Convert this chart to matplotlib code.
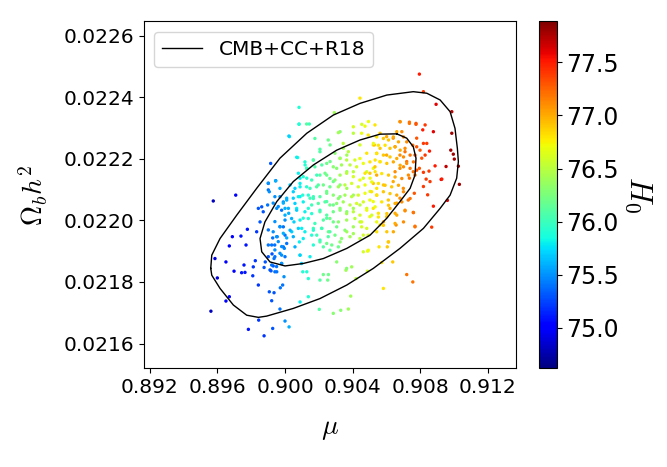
import numpy as np
import matplotlib.pyplot as plt

plt.rcParams['mathtext.fontset'] = 'cm'

# scatter samples: mu, Omega_b h^2, H0
mu = [0.89575, 0.89708, 0.89561, 0.89599, 0.89585, 0.8965, 0.8967, 0.89688, 0.8965, 0.8967,
      0.89698, 0.89743, 0.89763, 0.89739, 0.89769, 0.89777, 0.89757, 0.89809, 0.89812, 0.89842,
      0.89824, 0.89832, 0.89852, 0.89842, 0.89862, 0.89871, 0.89901, 0.89901, 0.89915, 0.89945,
      0.89783, 0.89876, 0.89927, 0.9, 0.90024, 0.89844, 0.8997, 0.89921, 0.89907, 0.89935,
      0.89986, 0.89972, 0.89994, 0.89951, 0.89917, 0.89876, 0.8993, 0.89883, 0.89923, 0.89935,
      0.89901, 0.89939, 0.89954, 0.89927, 0.9001, 0.8998, 0.89996, 0.8997, 0.9, 0.9,
      0.9001, 0.8997, 0.89951, 0.90022, 0.9004, 0.90053, 0.90069, 0.90075, 0.90083, 0.90083,
      0.90144, 0.90026, 0.90168, 0.90119, 0.90129, 0.90089, 0.90079, 0.90105, 0.90148, 0.90168,
      0.90138, 0.90108, 0.90099, 0.90085, 0.90089, 0.90105, 0.90129, 0.90138, 0.90089, 0.90138,
      0.90203, 0.90207, 0.90227, 0.90257, 0.90253, 0.90286, 0.9033, 0.90375, 0.90389, 0.90306,
      0.90361, 0.90421, 0.90488, 0.9049, 0.90573, 0.90583, 0.90638, 0.90606, 0.90612, 0.90557,
      0.90563, 0.90583, 0.90652, 0.90658, 0.90711, 0.9076, 0.9077, 0.90721, 0.90757, 0.90869,
      0.90879, 0.90962, 0.91033, 0.90925, 0.90929, 0.90889, 0.90954, 0.91027, 0.90997, 0.90982,
      0.90988, 0.90988, 0.90895, 0.9082, 0.90796, 0.90444, 0.90292, 0.90836, 0.9082, 0.9082,
      0.90859, 0.9081, 0.9083, 0.90856, 0.9082, 0.9084, 0.90816, 0.90879, 0.9083, 0.90776,
      0.90737, 0.90681, 0.9078, 0.908, 0.9077, 0.90737, 0.9076, 0.90796, 0.90766, 0.90701,
      0.9073, 0.90681, 0.90662, 0.90612, 0.90622, 0.90602, 0.90553, 0.90543, 0.90464, 0.90484,
      0.90444, 0.90405, 0.90366, 0.90326, 0.90277, 0.90247, 0.90207, 0.90188, 0.90168, 0.90218,
      0.90257, 0.90286, 0.90247, 0.90207, 0.90247, 0.90286, 0.90326, 0.90366, 0.90405, 0.90444,
      0.90484, 0.90523, 0.90504, 0.90543, 0.90583, 0.90641, 0.90652, 0.90681, 0.90721, 0.90711,
      0.90681, 0.90652, 0.90641, 0.90602, 0.90563, 0.90533, 0.90494, 0.90455, 0.90405, 0.90444,
      0.90523, 0.90563, 0.90602, 0.90563, 0.90523, 0.90484, 0.90464, 0.90504, 0.90405, 0.90366,
      0.90326, 0.90346, 0.90326, 0.90267, 0.90207, 0.90218, 0.90247, 0.90286, 0.90326, 0.90366,
      0.90405, 0.90366, 0.90306, 0.90267, 0.90188, 0.90197, 0.90129, 0.90148, 0.90247, 0.90326,
      0.90049, 0.90059, 0.9003, 0.90089, 0.91003, 0.90853, 0.90845,
      # centre of the cloud
      0.90083, 0.90128, 0.90023, 0.90316, 0.90405, 0.90474, 0.90454, 0.90493, 0.90177, 0.90256,
      0.90207, 0.90345, 0.90375, 0.90529, 0.90484, 0.90543, 0.90444, 0.90414, 0.90365, 0.90326,
      0.90296, 0.90069, 0.90118, 0.90168, 0.90128, 0.90177, 0.90247, 0.90286, 0.90335, 0.90385,
      0.90424, 0.90464, 0.90503, 0.90533, 0.90474, 0.90503, 0.90543, 0.90079, 0.90108, 0.90158,
      0.90207, 0.90237, 0.90266, 0.90296, 0.90326, 0.90365, 0.90405, 0.90444, 0.90089, 0.90128,
      0.90187, 0.90227, 0.90266, 0.90316, 0.90355, 0.90395, 0.90434, 0.90474, 0.90523, 0.90049,
      0.90089, 0.90138, 0.90168, 0.90207, 0.90247, 0.90286, 0.90316, 0.90355, 0.90395, 0.90434,
      0.90474, 0.90513, 0.90543, 0.9001, 0.8999, 0.90059, 0.90108, 0.90158, 0.90197, 0.90237,
      0.90266, 0.90306, 0.90345, 0.90385, 0.90424, 0.90464, 0.90503, 0.8998, 0.9002, 0.90069,
      0.90118, 0.90158, 0.90207, 0.90247, 0.90286, 0.90326, 0.90365, 0.90405, 0.90444, 0.90484,
      0.90523, 0.9, 0.90039, 0.90089, 0.90138, 0.90177, 0.90227, 0.90266, 0.90316, 0.90365,
      0.90414, 0.90454, 0.90503, 0.8999, 0.9003, 0.90079, 0.90118, 0.90168, 0.90217, 0.90266,
      0.90306, 0.90355, 0.90405, 0.90454, 0.9, 0.90049, 0.90108, 0.90158, 0.90207, 0.90256,
      0.90296, 0.90335, 0.90385, 0.90444, 0.90493, 0.9001, 0.90059, 0.8999, 0.90168, 0.90227,
      0.90266, 0.90316, 0.90464, 0.90493, 0.90089, 0.90148, 0.9, 0.8998, 0.90098, 0.90365,
      0.90395,
      # upper right of the cloud
      0.90682, 0.90737, 0.90776, 0.90662, 0.90692, 0.90642, 0.90702, 0.90721, 0.90672, 0.90613,
      0.90583, 0.90543, 0.9078, 0.90757, 0.90711, 0.90682, 0.90652, 0.90622, 0.90593, 0.90553,
      0.90524, 0.90741, 0.90702, 0.90662, 0.90622, 0.90583, 0.90543, 0.90761, 0.90721, 0.90682,
      0.90642, 0.90603, 0.90563, 0.90534, 0.9078, 0.90741, 0.90702, 0.9077, 0.90731, 0.90692,
      0.90652, 0.90613, 0.90573, 0.90534, 0.90672, 0.90632, 0.90593, 0.90553, 0.90514, 0.90702,
      0.90662, 0.90622, 0.90583, 0.90543, 0.90741, 0.90692, 0.90652, 0.90613, 0.90573, 0.90534,
      0.90711, 0.90761, 0.90662, 0.90603, 0.90553, 0.90514, 0.90702, 0.90652, 0.90583, 0.90543,
      0.90642, 0.90603, 0.9077, 0.90613,
      # left part of the inner contour
      0.89901, 0.89944, 0.89907, 0.8994, 0.8997, 0.89897, 0.8993, 0.8996, 0.8999, 0.89901,
      0.8994, 0.8997, 0.8993, 0.8995, 0.8999, 0.8996, 0.8998, 0.89921, 0.8994, 0.89901,
      0.8994, 0.8997, 0.89921, 0.8995, 0.8998, 0.89911, 0.8994]
omb = [0.022063, 0.022082, 0.021705, 0.021813, 0.021876, 0.021865, 0.021917, 0.021947, 0.021738, 0.021752,
       0.021835, 0.02183, 0.021831, 0.021949, 0.02192, 0.021971, 0.021855, 0.02182, 0.021849, 0.02179,
       0.021869, 0.021963, 0.021995, 0.022039, 0.022044, 0.022028, 0.02212, 0.022099, 0.022185, 0.022129,
       0.021646, 0.021625, 0.021649, 0.021673, 0.021654, 0.021676, 0.021712, 0.021739, 0.021768, 0.021765,
       0.02179, 0.021781, 0.021817, 0.021833, 0.021836, 0.021847, 0.021852, 0.021865, 0.021891, 0.021876,
       0.02192, 0.02192, 0.021947, 0.021943, 0.021943, 0.021887, 0.021909, 0.021979, 0.022017, 0.022039,
       0.022072, 0.022077, 0.022039, 0.022023, 0.021963, 0.021995, 0.022039, 0.022204, 0.022367, 0.022312,
       0.022313, 0.022272, 0.022196, 0.02218, 0.022169, 0.022109, 0.022077, 0.022082, 0.022104, 0.022077,
       0.022039, 0.022007, 0.021974, 0.02193, 0.021887, 0.021833, 0.021833, 0.021811, 0.021735, 0.021752,
       0.021711, 0.021806, 0.021824, 0.021824, 0.021806, 0.021698, 0.021708, 0.021712, 0.021754, 0.021865,
       0.021838, 0.021811, 0.021835, 0.0219, 0.021863, 0.021779, 0.021865, 0.021914, 0.02193, 0.021914,
       0.021985, 0.021995, 0.022023, 0.021985, 0.022031, 0.022026, 0.021981, 0.021824, 0.0218, 0.021978,
       0.022046, 0.022065, 0.022117, 0.022133, 0.022134, 0.022177, 0.022175, 0.022176, 0.022215, 0.022228,
       0.022283, 0.022353, 0.022377, 0.022418, 0.022475, 0.022397, 0.02235, 0.022134, 0.02211, 0.022156,
       0.022126, 0.022202, 0.022212, 0.022225, 0.02225, 0.02225, 0.022294, 0.022288, 0.02231, 0.022315,
       0.022319, 0.022321, 0.022267, 0.022228, 0.022212, 0.022137, 0.022158, 0.022169, 0.022088, 0.022104,
       0.022066, 0.022072, 0.022056, 0.022066, 0.022039, 0.022012, 0.022023, 0.021963, 0.021952, 0.021974,
       0.021995, 0.021979, 0.021963, 0.02193, 0.02192, 0.021925, 0.02193, 0.021952, 0.021974, 0.021974,
       0.021963, 0.021995, 0.022007, 0.022028, 0.022061, 0.02205, 0.022039, 0.022028, 0.022039, 0.02205,
       0.022039, 0.022061, 0.022094, 0.022104, 0.022115, 0.022126, 0.022158, 0.022169, 0.022191, 0.022223,
       0.022212, 0.022239, 0.022267, 0.022272, 0.022283, 0.02231, 0.022321, 0.022312, 0.022283, 0.022245,
       0.022245, 0.022234, 0.022212, 0.022191, 0.022169, 0.022158, 0.022137, 0.022137, 0.022158, 0.022212,
       0.022202, 0.022234, 0.022288, 0.022245, 0.022223, 0.02218, 0.022147, 0.022126, 0.022115, 0.022104,
       0.022082, 0.022158, 0.022169, 0.022191, 0.022147, 0.022115, 0.022137, 0.022072, 0.022094, 0.022077,
       0.022072, 0.022104, 0.022115, 0.022137, 0.022199, 0.02216, 0.022083,
       # centre of the cloud
       0.022313, 0.022313, 0.022274, 0.022285, 0.022304, 0.022306, 0.022283, 0.022277, 0.022266, 0.022261,
       0.022231, 0.02225, 0.022223, 0.022245, 0.022218, 0.022218, 0.022201, 0.022196, 0.022196, 0.022201,
       0.022218, 0.022205, 0.02219, 0.022196, 0.022169, 0.022174, 0.022185, 0.022174, 0.02218, 0.02218,
       0.022174, 0.022185, 0.02219, 0.022174, 0.022153, 0.022153, 0.022147, 0.022153, 0.022142, 0.022131,
       0.022147, 0.022153, 0.022136, 0.022131, 0.022147, 0.022153, 0.022142, 0.022131, 0.02212, 0.022109,
       0.022109, 0.022115, 0.022109, 0.022109, 0.022115, 0.02212, 0.022109, 0.022115, 0.02212, 0.022093,
       0.022077, 0.022082, 0.022071, 0.022077, 0.022088, 0.022082, 0.022071, 0.022082, 0.022077, 0.022082,
       0.022088, 0.022093, 0.022082, 0.022066, 0.02206, 0.022055, 0.02206, 0.02205, 0.022055, 0.02206,
       0.02205, 0.022055, 0.02206, 0.02205, 0.022055, 0.02206, 0.022066, 0.022033, 0.022039, 0.022033,
       0.022028, 0.022022, 0.022033, 0.022017, 0.022028, 0.022033, 0.022022, 0.022028, 0.022017, 0.022033,
       0.022039, 0.022001, 0.022006, 0.022001, 0.022006, 0.02199, 0.022001, 0.022006, 0.021995, 0.022001,
       0.022006, 0.021995, 0.022012, 0.021979, 0.021968, 0.021974, 0.021963, 0.021968, 0.021974, 0.021963,
       0.021979, 0.021968, 0.021957, 0.021979, 0.021952, 0.021947, 0.021941, 0.021952, 0.021936, 0.021947,
       0.021952, 0.021941, 0.021947, 0.021941, 0.021952, 0.021925, 0.021914, 0.021914, 0.02192, 0.021914,
       0.021903, 0.021914, 0.021898, 0.021903, 0.021887, 0.021882, 0.021882, 0.02186, 0.02186, 0.021844,
       0.021849,
       # upper right of the cloud
       0.02232, 0.022315, 0.022312, 0.022288, 0.022288, 0.022271, 0.022271, 0.022255, 0.022255, 0.022261,
       0.022266, 0.022271, 0.022239, 0.022244, 0.022234, 0.022228, 0.022239, 0.022234, 0.022244, 0.022244,
       0.02225, 0.022212, 0.022206, 0.022201, 0.022206, 0.022212, 0.022217, 0.02219, 0.022185, 0.022179,
       0.02219, 0.022185, 0.02219, 0.022196, 0.022163, 0.022169, 0.022174, 0.022147, 0.022147, 0.022136,
       0.022141, 0.022147, 0.022152, 0.022158, 0.022114, 0.022109, 0.022114, 0.02212, 0.022125, 0.022093,
       0.022082, 0.022087, 0.022093, 0.022082, 0.022071, 0.02206, 0.022055, 0.022049, 0.02206, 0.022044,
       0.022033, 0.022025, 0.022017, 0.022022, 0.022011, 0.022017, 0.021995, 0.02199, 0.021984, 0.021995,
       0.021963, 0.021963, 0.021979, 0.02193,
       # left part of the inner contour
       0.022121, 0.022128, 0.022093, 0.022077, 0.022104, 0.02205, 0.022056, 0.022045, 0.022056, 0.021969,
       0.021996, 0.02198, 0.021963, 0.021947, 0.021958, 0.021931, 0.021915, 0.02192, 0.021904, 0.021882,
       0.021882, 0.021893, 0.021855, 0.02185, 0.02186, 0.021839, 0.021833]
h0 = [74.8, 75.0, 74.8, 74.9, 74.9, 75.0, 75.0, 75.0, 75.0, 75.0,
      75.0, 75.1, 75.1, 75.1, 75.1, 75.1, 75.1, 75.2, 75.2, 75.2,
      75.2, 75.2, 75.3, 75.3, 75.3, 75.3, 75.4, 75.4, 75.3, 75.4,
      75.1, 75.2, 75.3, 75.5, 75.6, 75.2, 75.4, 75.3, 75.3, 75.3,
      75.4, 75.4, 75.5, 75.4, 75.3, 75.3, 75.3, 75.3, 75.3, 75.4,
      75.4, 75.4, 75.5, 75.4, 75.6, 75.5, 75.5, 75.5, 75.6, 75.6,
      75.6, 75.5, 75.5, 75.6, 75.7, 75.7, 75.8, 75.9, 75.9, 75.9,
      76.0, 75.8, 76.0, 75.9, 75.9, 75.8, 75.8, 75.9, 76.0, 76.0,
      75.9, 75.9, 75.8, 75.8, 75.8, 75.9, 75.9, 75.9, 75.8, 75.9,
      76.1, 76.1, 76.2, 76.2, 76.2, 76.3, 76.3, 76.4, 76.4, 76.3,
      76.4, 76.5, 76.6, 76.7, 76.8, 76.8, 76.9, 76.9, 76.9, 76.8,
      76.8, 77.0, 77.0, 77.1, 77.1, 77.2, 77.2, 77.2, 77.2, 77.4,
      77.5, 77.6, 77.8, 77.6, 77.5, 77.5, 77.7, 77.8, 77.8, 77.8,
      77.8, 77.7, 77.6, 77.4, 77.5, 76.8, 76.4, 77.4, 77.4, 77.4,
      77.4, 77.3, 77.4, 77.5, 77.4, 77.4, 77.5, 77.6, 77.4, 77.3,
      77.2, 77.1, 77.3, 77.3, 77.3, 77.2, 77.2, 77.3, 77.3, 77.1,
      77.2, 77.1, 77.0, 76.9, 77.0, 76.9, 76.8, 76.8, 76.6, 76.6,
      76.5, 76.4, 76.4, 76.3, 76.2, 76.2, 76.1, 76.0, 76.0, 76.1,
      76.2, 76.2, 76.1, 76.1, 76.1, 76.2, 76.3, 76.3, 76.4, 76.5,
      76.6, 76.7, 76.6, 76.8, 76.9, 77.0, 77.1, 77.1, 77.2, 77.2,
      77.1, 77.1, 77.1, 77.0, 76.9, 76.8, 76.7, 76.6, 76.5, 76.6,
      76.8, 76.9, 77.0, 76.8, 76.7, 76.6, 76.6, 76.7, 76.5, 76.4,
      76.3, 76.4, 76.3, 76.2, 76.1, 76.1, 76.2, 76.2, 76.3, 76.4,
      76.4, 76.4, 76.3, 76.2, 76.0, 76.1, 75.9, 76.0, 76.2, 76.3,
      75.7, 75.7, 75.7, 75.8, 77.8, 77.4, 77.4,
      # centre of the cloud
      75.9, 76.1, 75.7, 76.4, 76.6, 76.7, 76.7, 76.8, 76.1, 76.2,
      76.1, 76.5, 76.5, 76.9, 76.8, 76.9, 76.7, 76.6, 76.5, 76.4,
      76.3, 75.8, 75.9, 76.1, 76.0, 76.1, 76.2, 76.3, 76.4, 76.5,
      76.6, 76.7, 76.8, 76.9, 76.8, 76.9, 77.0, 75.8, 75.9, 76.0,
      76.1, 76.2, 76.2, 76.3, 76.4, 76.5, 76.6, 76.7, 75.8, 75.9,
      76.1, 76.2, 76.2, 76.4, 76.5, 76.6, 76.6, 76.7, 76.9, 75.7,
      75.8, 75.9, 76.0, 76.1, 76.2, 76.3, 76.3, 76.4, 76.5, 76.6,
      76.7, 76.8, 76.9, 75.6, 75.5, 75.7, 75.8, 76.0, 76.1, 76.1,
      76.2, 76.3, 76.4, 76.5, 76.6, 76.6, 76.7, 75.4, 75.6, 75.7,
      75.8, 75.9, 76.0, 76.1, 76.2, 76.3, 76.4, 76.5, 76.6, 76.7,
      76.8, 75.5, 75.6, 75.8, 75.9, 76.0, 76.1, 76.2, 76.3, 76.4,
      76.5, 76.6, 76.7, 75.4, 75.6, 75.7, 75.8, 75.9, 76.0, 76.1,
      76.2, 76.3, 76.4, 76.6, 75.4, 75.6, 75.8, 75.9, 76.0, 76.1,
      76.2, 76.3, 76.4, 76.5, 76.6, 75.4, 75.6, 75.4, 75.9, 76.1,
      76.1, 76.2, 76.6, 76.7, 75.7, 75.8, 75.4, 75.4, 75.7, 76.3,
      76.4,
      # upper right of the cloud
      77.1, 77.2, 77.3, 77.0, 77.1, 77.0, 77.1, 77.1, 77.0, 76.9,
      76.9, 76.8, 77.3, 77.2, 77.1, 77.0, 77.0, 76.9, 76.8, 76.8,
      76.7, 77.2, 77.1, 77.0, 76.9, 76.9, 76.8, 77.2, 77.1, 77.0,
      77.0, 76.9, 76.8, 76.8, 77.3, 77.2, 77.1, 77.2, 77.1, 77.1,
      77.0, 76.9, 76.8, 76.8, 77.0, 76.9, 76.9, 76.8, 76.7, 77.1,
      77.0, 76.9, 76.9, 76.8, 77.2, 77.1, 77.0, 76.9, 76.8, 76.7,
      77.1, 77.2, 77.0, 76.9, 76.8, 76.6, 77.1, 77.0, 76.9, 76.7,
      77.0, 76.9, 77.2, 76.9,
      # left part of the inner contour
      75.5, 75.6, 75.5, 75.5, 75.6, 75.4, 75.5, 75.5, 75.6, 75.4,
      75.5, 75.5, 75.5, 75.5, 75.6, 75.5, 75.5, 75.4, 75.5, 75.3,
      75.4, 75.5, 75.4, 75.4, 75.5, 75.3, 75.4]

# contour lines (outer 2-sigma, inner 1-sigma)
outer_mu = [0.8956, 0.89566, 0.89615, 0.89714, 0.89832, 0.8997, 0.90129, 0.90286, 0.90444, 0.90603,
            0.9076, 0.9084, 0.90919, 0.90978, 0.91007, 0.91021, 0.91027, 0.91017, 0.90978, 0.90919,
            0.9082, 0.90681, 0.90523, 0.90366, 0.90207, 0.90049, 0.89891, 0.89842, 0.89773, 0.89694,
            0.89615, 0.89566, 0.8956]
outer_omb = [0.021844, 0.021887, 0.021941, 0.022017, 0.022104, 0.022202, 0.022283, 0.022342, 0.02238, 0.022407,
             0.022418, 0.022413, 0.022391, 0.022353, 0.022299, 0.022234, 0.022191, 0.022137, 0.022082, 0.022039,
             0.021974, 0.021909, 0.021844, 0.02179, 0.021746, 0.021714, 0.021689, 0.021685, 0.021692, 0.021725,
             0.021779, 0.021822, 0.021844]
inner_mu = [0.90662, 0.90721, 0.9076, 0.90776, 0.9077, 0.90741, 0.90681, 0.90603, 0.90504, 0.90366,
            0.90227, 0.90108, 0.9, 0.89911, 0.89862, 0.89852, 0.89881, 0.89951, 0.90049, 0.90168,
            0.90306, 0.90444, 0.90563, 0.90662]
inner_omb = [0.022281, 0.022267, 0.022239, 0.022202, 0.022147, 0.022104, 0.022061, 0.022007, 0.021952, 0.021909,
             0.021876, 0.02186, 0.021852, 0.021865, 0.021898, 0.021941, 0.021995, 0.022061, 0.022126, 0.02218,
             0.022228, 0.022261, 0.02228, 0.022281]

fig = plt.figure(figsize=(6.67, 4.67), dpi=100)
ax = fig.add_axes([0.216, 0.211, 0.557, 0.743])
cax = fig.add_axes([0.808, 0.212, 0.0265, 0.743])

sc = ax.scatter(mu, omb, c=h0, cmap='jet', s=6, linewidths=0, vmin=74.62, vmax=77.89)
ax.plot(outer_mu, outer_omb, color='black', lw=1.0, label='CMB+CC+R18')
ax.plot(inner_mu, inner_omb, color='black', lw=1.0)

ax.set_xlim(0.89165, 0.91366)
ax.set_ylim(0.021519, 0.022646)
ax.set_xticks([0.892, 0.896, 0.900, 0.904, 0.908, 0.912])
ax.set_yticks([0.0216, 0.0218, 0.0220, 0.0222, 0.0224, 0.0226])
ax.tick_params(labelsize=14.5)
ax.set_xlabel(r'$\mu$', fontsize=20, labelpad=12)
ax.set_ylabel(r'$\Omega_b h^2$', fontsize=20, labelpad=10)
ax.legend(loc='upper left', fontsize=14.5)

cb = fig.colorbar(sc, cax=cax)
cb.set_ticks([75.0, 75.5, 76.0, 76.5, 77.0, 77.5])
cb.ax.tick_params(labelsize=17)
cb.set_label(r'$H_0$', fontsize=22, rotation=270, labelpad=25)

fig.savefig('out.png', dpi=100)
